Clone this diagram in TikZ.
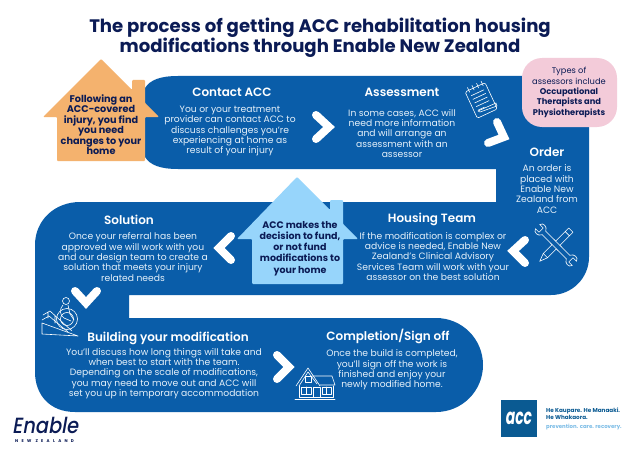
\documentclass[tikz,border=0pt]{standalone}
\usepackage{fontspec}
\setmainfont{Poppins}
\newfontfamily\psemi{Poppins SemiBold}
\newfontfamily\enab[FakeSlant=0.2]{Poppins Medium}
\definecolor{bandblue}{HTML}{0A5DA9}
\definecolor{navy}{HTML}{0B1B55}
\definecolor{orangeh}{HTML}{F4B26E}
\definecolor{lightb}{HTML}{97D5FB}
\definecolor{pinkb}{HTML}{F3CBD9}
\definecolor{logob}{HTML}{0A5A92}
\definecolor{txtb}{HTML}{E6F1FA}
\tikzset{
 heading/.style={text=white,font=\psemi\fontsize{12}{13}\selectfont,inner sep=0pt},
 bodytxt/.style={text=txtb,align=center,inner sep=0pt,font=\fontsize{9.2}{10.3}\selectfont},
 housetxt/.style={text=navy,align=center,inner sep=0pt,font=\bfseries\fontsize{9.7}{10.5}\selectfont},
 chev/.style={draw=white,line width=8pt,line cap=round,line join=miter,miter limit=10},
 icon/.style={draw=white,line width=0.6pt,line join=round,line cap=round},
}
\begin{document}
\begin{tikzpicture}[x=1pt,y=-1pt]
\useasboundingbox (0,0) rectangle (640,452);
\fill[white] (0,0) rectangle (640,452);
% band
\fill[bandblue] (178,76) -- (589,76) -- (589,257)
 .. controls (589,278) and (572,295) .. (551,295) -- (129,295) -- (129,318) -- (436,318)
 .. controls (462,318) and (483,339) .. (483,365) .. controls (483,391) and (462,412) .. (436,412) -- (75,412)
 .. controls (50,412) and (35,395) .. (35,372) -- (35,245)
 .. controls (35,220) and (55,202) .. (80,202) -- (496,202) -- (496,169) -- (178,169)
 .. controls (160,169) and (150,165) .. (145,157) -- (145,88) .. controls (150,80) and (160,76) .. (178,76) -- cycle;
% title
\node[text=navy,align=center,inner sep=0pt,font=\bfseries\fontsize{18.1}{20}\selectfont] (title) at (320,38) {The process of getting ACC rehabilitation housing\\modifications through Enable New Zealand};
% orange house
\fill[orangeh,rounded corners=1pt] (101,59) -- (132,90) -- (132,80) -- (145,80) -- (145,103) -- (159,117) -- (145,117) -- (145,161) -- (57,161) -- (57,117) -- (43,117) -- cycle;
\node[housetxt] (injury) at (101,124.5) {Following an\\ACC-covered\\injury, you find\\you need\\changes to your\\home};
% pink box
\fill[pinkb,rounded corners=20pt] (522,58) rectangle (617,127);
\node[text=navy,align=center,inner sep=0pt,font=\fontsize{8.3}{10.4}\selectfont] (types) at (569,92.5) {Types of\\assessors include\\{\bfseries Occupational}\\{\bfseries Therapists and}\\{\bfseries Physiotherapists}};
% light blue house
\fill[lightb,rounded corners=1pt] (297,177) -- (330,210) -- (330,200) -- (343,200) -- (343,224) -- (358,239) -- (343,239) -- (343,284) -- (252,284) -- (252,239) -- (237,239) -- cycle;
\node[text=navy,align=center,inner sep=0pt,font=\bfseries\fontsize{9.5}{11.2}\selectfont] (decision) at (300,248.5) {ACC makes the\\decision to fund,\\or not fund\\modifications to\\your home};
% headings and bodies
\node[heading] (contact) at (232,92.5) {Contact ACC};
\node[bodytxt] (contactb) at (230,131) {You or your treatment\\provider can contact ACC to\\discuss challenges you’re\\experiencing at home as\\result of your injury};
\node[heading] (assess) at (402,92.5) {Assessment};
\node[bodytxt] (assessb) at (402,133.5) {In some cases, ACC will\\need more information\\and will arrange an\\assessment with an\\assessor};
\node[heading] (order) at (547,152.5) {Order};
\node[bodytxt] (orderb) at (547,189) {An order is\\placed with\\Enable New\\Zealand from\\ACC};
\node[heading] (solution) at (129,219.5) {Solution};
\node[bodytxt] (solutionb) at (133,257) {Once your referral has been\\approved we will work with you\\and our design team to create a\\solution that meets your injury\\related needs};
\node[heading] (housing) at (432,219.5) {Housing Team};
\node[bodytxt] (housingb) at (433,256.5) {If the modification is complex or\\advice is needed, Enable New\\Zealand’s Clinical Advisory\\Services Team will work with your\\assessor on the best solution};
\node[heading] (building) at (168,338) {Building your modification};
\node[bodytxt] (buildingb) at (164,373.5) {You’ll discuss how long things will take and\\when best to start with the team.\\Depending on the scale of modifications,\\you may need to move out and ACC will\\set you up in temporary accommodation};
\node[heading] (complete) at (388,336) {Completion/Sign off};
\node[bodytxt] (completeb) at (392,370) {Once the build is completed,\\you’ll sign off the work is\\finished and enjoy your\\newly modified home.};
% chevrons
\draw[chev] (316,115) -- (329,127) -- (316,139);
\draw[chev] (497,122) -- (504,137) -- (488,143);
\draw[chev] (231,236) -- (219,248) -- (231,260);
\draw[chev] (75,291) -- (86,303) -- (97,291);
\draw[chev] (277,355) -- (289,367) -- (277,379);
\draw[chev] (525,240) -- (513,251) -- (525,263);
% notepad icon
\begin{scope}[shift={(481,100)},rotate=25]
 \draw[icon,rounded corners=1.5pt] (-11,-14) rectangle (11,15);
 \foreach \a in {-7,-2,3,8} \draw[icon] (\a,-17) -- (\a,-12);
 \foreach \b in {-8,-4,0,4} \draw[icon] (-7,\b) -- (7,\b);
 \draw[icon] (-7,8) -- (0,8);
\end{scope}
\draw[icon] (478,111) -- (496,103) -- (497,106) -- (480,112) -- cycle;
% tools icon
\begin{scope}[shift={(556,245)},rotate=45]
 \draw[icon] (-2.5,-17) -- (-2.5,17) (2.5,-17) -- (2.5,17);
 \draw[icon] (-2.5,-17) .. controls (-7,-19) and (-7,-25) .. (-3,-26) -- (-3,-21) -- (3,-21) -- (3,-26) .. controls (7,-25) and (7,-19) .. (2.5,-17);
 \draw[icon] (-2.5,17) .. controls (-7,19) and (-7,25) .. (-3,26) -- (-3,21) -- (3,21) -- (3,26) .. controls (7,25) and (7,19) .. (2.5,17);
\end{scope}
\begin{scope}[shift={(556,245)},rotate=-45]
 \fill[bandblue] (-3,-21) rectangle (3,15);
 \draw[icon] (-3,-21) rectangle (3,15) (-3,-16) -- (3,-16);
 \draw[icon] (-3,15) -- (0,23) -- (3,15);
\end{scope}
\begin{scope}[shift={(556,245)},rotate=45]
 \fill[bandblue] (-2.2,-6) rectangle (2.2,6);
 \draw[icon] (-2.5,-6) -- (-2.5,6) (2.5,-6) -- (2.5,6);
\end{scope}
% wheelchair ramp icon
\draw[icon] (66,301) circle[radius=3.5];
\draw[icon] (67,319) circle[radius=10.5] (67,319) circle[radius=6.5];
\draw[icon] (63,305) .. controls (59,309) and (60,316) .. (64,318) -- (71,321) (68,305) -- (70,314) -- (74,320);
\draw[icon] (42,323) -- (42,334) -- (78,336) -- (42,323);
\draw[icon] (43,315) -- (50,311) -- (72,331) (42,320) -- (49,316) -- (68,332) (48,318) -- (48,312) (55,323) -- (55,316);
% house icon
\draw[icon] (296,386) -- (308,368) -- (320,386) (299,386) -- (308,372) -- (317,384);
\draw[icon] (312,376) -- (332,376) -- (335,385) -- (320,385);
\draw[icon] (299,386) -- (299,397) -- (333,397) -- (333,386);
\draw[icon] (295,399) -- (335,399);
\draw[icon] (305,376) rectangle (311,382);
\draw[icon] (301,387) rectangle (311,394) (306,387) -- (306,394);
\draw[icon] (322,387) rectangle (331,394) (326.5,387) -- (326.5,394);
\draw[icon] (313,397) -- (313,387) -- (320,387) -- (320,397);
% logos
\fill[logob] (501,400) rectangle (537,437);
\node[text=white,inner sep=0pt,xscale=0.63,font=\bfseries\itshape\fontsize{22}{22}\selectfont] (acclogo) at (519,418) {acc};
\node[anchor=west,text=logob,align=left,inner sep=0pt,font=\bfseries\fontsize{5.7}{7.6}\selectfont] (tag1) at (546,413.6) {He Kaupare. He Manaaki.\\He Whakaora.};
\node[anchor=west,text=lightb!80!logob,inner sep=0pt,font=\bfseries\fontsize{5.4}{7}\selectfont] (tag2) at (546,427) {prevention. care. recovery.};
\node[anchor=base west,text=navy,inner sep=0pt,xscale=0.88,font=\enab\fontsize{22}{22}\selectfont] (enable) at (12,433) {Enable};
\node[anchor=base west,text=navy,inner sep=0pt,font=\bfseries\fontsize{4.1}{5}\selectfont\addfontfeature{LetterSpace=80}] (nz) at (15,442) {NEW ZEALAND};
\end{tikzpicture}
\end{document}
